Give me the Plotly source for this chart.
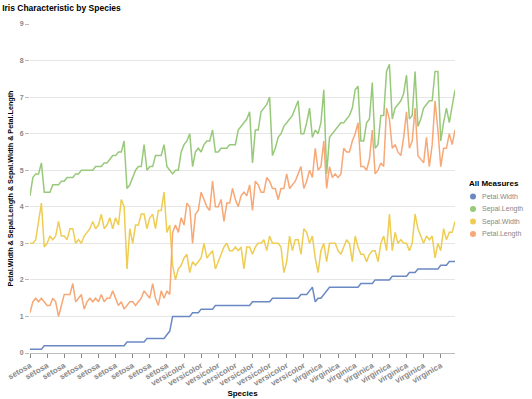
import plotly.graph_objects as go

# Iris measurements (rows in dataset order)
sepal_length = [5.1,4.9,4.7,4.6,5.0,5.4,4.6,5.0,4.4,4.9,5.4,4.8,4.8,4.3,5.8,5.7,5.4,5.1,5.7,5.1,5.4,5.1,4.6,5.1,4.8,5.0,5.0,5.2,5.2,4.7,4.8,5.4,5.2,5.5,4.9,5.0,5.5,4.9,4.4,5.1,5.0,4.5,4.4,5.0,5.1,4.8,5.1,4.6,5.3,5.0,
                7.0,6.4,6.9,5.5,6.5,5.7,6.3,4.9,6.6,5.2,5.0,5.9,6.0,6.1,5.6,6.7,5.6,5.8,6.2,5.6,5.9,6.1,6.3,6.1,6.4,6.6,6.8,6.7,6.0,5.7,5.5,5.5,5.8,6.0,5.4,6.0,6.7,6.3,5.6,5.5,5.5,6.1,5.8,5.0,5.6,5.7,5.7,6.2,5.1,5.7,
                6.3,5.8,7.1,6.3,6.5,7.6,4.9,7.3,6.7,7.2,6.5,6.4,6.8,5.7,5.8,6.4,6.5,7.7,7.7,6.0,6.9,5.6,7.7,6.3,6.7,7.2,6.2,6.1,6.4,7.2,7.4,7.9,6.4,6.3,6.1,7.7,6.3,6.4,6.0,6.9,6.7,6.9,5.8,6.8,6.7,6.7,6.3,6.5,6.2,5.9]
sepal_width = [3.5,3.0,3.2,3.1,3.6,3.9,3.4,3.4,2.9,3.1,3.7,3.4,3.0,3.0,4.0,4.4,3.9,3.5,3.8,3.8,3.4,3.7,3.6,3.3,3.4,3.0,3.4,3.5,3.4,3.2,3.1,3.4,4.1,4.2,3.1,3.2,3.5,3.6,3.0,3.4,3.5,2.3,3.2,3.5,3.8,3.0,3.8,3.2,3.7,3.3,
               3.2,3.2,3.1,2.3,2.8,2.8,3.3,2.4,2.9,2.7,2.0,3.0,2.2,2.9,2.9,3.1,3.0,2.7,2.2,2.5,3.2,2.8,2.5,2.8,2.9,3.0,2.8,3.0,2.9,2.6,2.4,2.4,2.7,2.7,3.0,3.4,3.1,2.3,3.0,2.5,2.6,3.0,2.6,2.3,2.7,3.0,2.9,2.9,2.5,2.8,
               3.3,2.7,3.0,2.9,3.0,3.0,2.5,2.9,2.5,3.6,3.2,2.7,3.0,2.5,2.8,3.2,3.0,3.8,2.6,2.2,3.2,2.8,2.8,2.7,3.3,3.2,2.8,3.0,2.8,3.0,2.8,3.8,2.8,2.8,2.6,3.0,3.4,3.1,3.0,3.1,3.1,3.1,2.7,3.2,3.3,3.0,2.5,3.0,3.4,3.0]
petal_length = [1.4,1.4,1.3,1.5,1.4,1.7,1.4,1.5,1.4,1.5,1.5,1.6,1.4,1.1,1.2,1.5,1.3,1.4,1.7,1.5,1.7,1.5,1.0,1.7,1.9,1.6,1.6,1.5,1.4,1.6,1.6,1.5,1.5,1.4,1.5,1.2,1.3,1.4,1.3,1.5,1.3,1.3,1.3,1.6,1.9,1.4,1.6,1.4,1.5,1.4,
                4.7,4.5,4.9,4.0,4.6,4.5,4.7,3.3,4.6,3.9,3.5,4.2,4.0,4.7,3.6,4.4,4.5,4.1,4.5,3.9,4.8,4.0,4.9,4.7,4.3,4.4,4.8,5.0,4.5,3.5,3.8,3.7,3.9,5.1,4.5,4.5,4.7,4.4,4.1,4.0,4.4,4.6,4.0,3.3,4.2,4.2,4.2,4.3,3.0,4.1,
                6.0,5.1,5.9,5.6,5.8,6.6,4.5,6.3,5.8,6.1,5.1,5.3,5.5,5.0,5.1,5.3,5.5,6.7,6.9,5.0,5.7,4.9,6.7,4.9,5.7,6.0,4.8,4.9,5.6,5.8,6.1,6.4,5.6,5.1,5.6,6.1,5.6,5.5,4.8,5.4,5.6,5.1,5.1,5.9,5.7,5.2,5.0,5.2,5.4,5.1]
petal_width = [0.2,0.2,0.2,0.2,0.2,0.4,0.3,0.2,0.2,0.1,0.2,0.2,0.1,0.1,0.2,0.4,0.4,0.3,0.3,0.3,0.2,0.4,0.2,0.5,0.2,0.2,0.4,0.2,0.2,0.2,0.2,0.4,0.1,0.2,0.2,0.2,0.2,0.1,0.2,0.2,0.3,0.3,0.2,0.6,0.4,0.3,0.2,0.2,0.2,0.2,
               1.4,1.5,1.5,1.3,1.5,1.3,1.6,1.0,1.3,1.4,1.0,1.5,1.0,1.4,1.3,1.4,1.5,1.0,1.5,1.1,1.8,1.3,1.5,1.2,1.3,1.4,1.4,1.7,1.5,1.0,1.1,1.0,1.2,1.6,1.5,1.6,1.5,1.3,1.3,1.3,1.2,1.4,1.2,1.0,1.3,1.2,1.3,1.3,1.1,1.3,
               2.5,1.9,2.1,1.8,2.2,2.1,1.7,1.8,1.8,2.5,2.0,1.9,2.1,2.0,2.4,2.3,1.8,2.2,2.3,1.5,2.3,2.0,2.0,1.8,2.1,1.8,1.8,1.8,2.1,1.6,1.9,2.0,2.2,1.5,1.4,2.3,2.4,1.8,1.8,2.1,2.4,2.3,1.9,2.3,2.5,2.3,1.9,2.0,2.3,1.8]
species = ["setosa"] * 50 + ["versicolor"] * 50 + ["virginica"] * 50
species_order = ["setosa", "versicolor", "virginica"]

series_names = ["Petal.Width", "Sepal.Length", "Sepal.Width", "Petal.Length"]
series_colors = ["#6a89c2", "#98c97a", "#eecd52", "#f7a877"]

# Order rows as in the chart: by species, then petal width, sepal length, sepal width
rows = list(zip(species, petal_width, sepal_length, sepal_width, petal_length))
rows.sort(key=lambda r: (species_order.index(r[0]), r[1], r[2], r[3], r[4]))
sp_sorted = [r[0] for r in rows]
cols = {
    "Petal.Width": [r[1] for r in rows],
    "Sepal.Length": [r[2] for r in rows],
    "Sepal.Width": [r[3] for r in rows],
    "Petal.Length": [r[4] for r in rows],
}
xs = list(range(len(rows)))
tick_idx = xs[::6]
tick_text = [sp_sorted[i] for i in tick_idx]

W, H = 532, 399
ML, MR, MT, MB = 30, 77, 24, 46
PW, PH = W - ML - MR, H - MT - MB


def px_x(px):
    return (px - ML) / PW


def px_y(py):
    return (H - MB - py) / PH


fig = go.Figure()
for name, color in zip(series_names, series_colors):
    fig.add_trace(go.Scatter(x=xs, y=cols[name], mode="lines", name=name,
                             line=dict(color=color, width=1.5), showlegend=False,
                             hovertemplate="%{y}<extra>" + name + "</extra>"))

grey = "#888888"
# Custom legend (compact spacing like the reference)
fig.add_annotation(x=px_x(467), y=px_y(183), xref="paper", yref="paper",
                   text="<b>All Measures</b>", showarrow=False, xanchor="left", yanchor="middle",
                   font=dict(size=8, color="#000000"))
for i, (name, color) in enumerate(zip(series_names, series_colors)):
    cy = 196.5 + i * 12.5
    fig.add_shape(type="circle", xref="paper", yref="paper",
                  x0=px_x(470), x1=px_x(476), y0=px_y(cy + 3), y1=px_y(cy - 3),
                  fillcolor=color, line=dict(width=0))
    fig.add_annotation(x=px_x(480), y=px_y(cy), xref="paper", yref="paper",
                       text=name, showarrow=False, xanchor="left", yanchor="middle",
                       font=dict(size=7, color=grey))

fig.update_layout(
    width=W, height=H, showlegend=False,
    margin=dict(l=ML, r=MR, t=MT, b=MB, autoexpand=False),
    paper_bgcolor="white", plot_bgcolor="white",
    font=dict(family="Liberation Sans, Arial, sans-serif", size=8, color="#333"),
    title=dict(text="<b>Iris Characteristic by Species</b>", x=0.004, xanchor="left",
               y=0.988, yanchor="top", pad=dict(t=0, b=0, l=0, r=0),
               font=dict(size=8.5, color="#000")),
    xaxis=dict(range=[0, 149], tickmode="array", tickvals=tick_idx, ticktext=tick_text,
               tickangle=-30, tickfont=dict(size=8, color=grey, weight="bold"),
               showgrid=False, showline=True, linecolor="#bbbbbb", linewidth=1,
               ticks="outside", ticklen=4, tickcolor="#888", zeroline=False, automargin=False,
               title=dict(text="<b>Species</b>", font=dict(size=8, color="#000"), standoff=3)),
    yaxis=dict(range=[0, 9], dtick=1, tickfont=dict(size=7, color=grey, weight="bold"),
               showgrid=True, gridcolor="#e6e6e6", gridwidth=1, zeroline=False,
               showline=False, ticks="outside", ticklen=4, tickcolor="#bbbbbb", automargin=False,
               title=dict(text="<b>Petal.Width & Sepal.Length & Sepal.Width & Petal.Length</b>",
                          font=dict(size=7.2, color="#000"), standoff=5)),
)
fig.write_html("out.html", config={"displayModeBar": False},
               post_script="document.body.style.margin='0';")
